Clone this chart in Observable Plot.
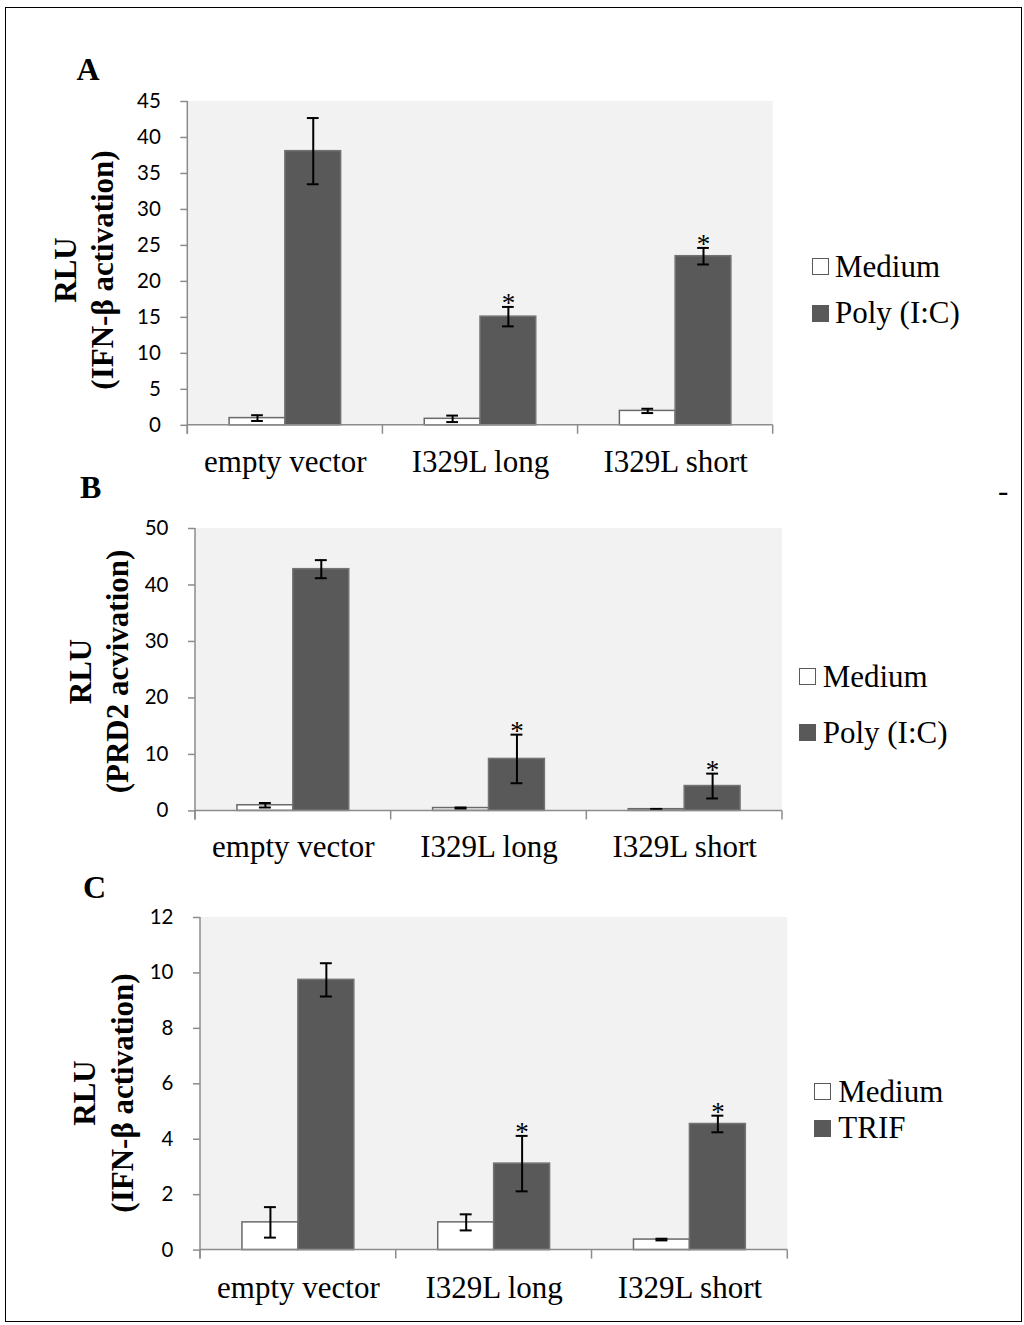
<!DOCTYPE html>
<html><head><meta charset="utf-8">
<script src="https://cdn.jsdelivr.net/npm/d3@7"></script>
<script src="https://cdn.jsdelivr.net/npm/@observablehq/plot@0.6"></script>
<style>
body{margin:0;background:#fff;}
#fig{position:relative;width:1024px;height:1325px;overflow:hidden;font-family:"Liberation Serif","Times New Roman",serif;color:#000;}
.abs{position:absolute;white-space:nowrap;}
svg{position:absolute;left:0;}
</style></head><body><div id="fig"></div>
<script>
// ---- data ----
const categories = ["empty vector", "I329L long", "I329L short"];
const seriesAB = ["Medium", "Poly (I:C)"];
const seriesC = ["Medium", "TRIF"];

const mediumA = [1.0, 0.9, 2.0];
const mediumAErr = [0.4, 0.45, 0.3];
const polyA = [38.1, 15.1, 23.5];
const polyAErr = [4.6, 1.35, 1.15];
const polyASig = [false, true, true];
const ticksA = [0, 5, 10, 15, 20, 25, 30, 35, 40, 45];

const mediumB = [1.0, 0.5, 0.3];
const mediumBErr = [0.4, 0.1, 0.05];
const polyB = [42.8, 9.2, 4.4];
const polyBErr = [1.6, 4.3, 2.2];
const polyBSig = [false, true, true];
const ticksB = [0, 10, 20, 30, 40, 50];

const mediumC = [1.0, 1.0, 0.38];
const mediumCErr = [0.55, 0.29, 0.03];
const trifC = [9.75, 3.12, 4.55];
const trifCErr = [0.6, 1.0, 0.3];
const trifCSig = [false, true, true];
const ticksC = [0, 2, 4, 6, 8, 10, 12];

const titlesA = ["RLU", "(IFN-\u03b2 activation)"];
const titlesB = ["RLU", "(PRD2 acvivation)"];
const titlesC = ["RLU", "(IFN-\u03b2 activation)"];

// ---- styles ----
const DARK = "#595959";
const SERIF = "Liberation Serif";
const fig = document.getElementById("fig");

function buildRows(med, medErr, trt, trtErr, trtSig, series) {
  return categories.flatMap((c, i) => [
    {category: c, series: series[0], value: med[i], err: medErr[i], sig: false},
    {category: c, series: series[1], value: trt[i], err: trtErr[i], sig: trtSig[i]}
  ]);
}

function placeText(txt, x, baseline, size, opts = {}) {
  const d = document.createElement("div");
  d.className = "abs";
  d.textContent = txt;
  d.style.fontSize = size + "px";
  d.style.lineHeight = size + "px";
  d.style.left = x + "px";
  d.style.top = (baseline - 0.8375 * size) + "px";
  if (opts.bold) d.style.fontWeight = "bold";
  fig.appendChild(d);
  return d;
}

function legend(series, sqX, textX, baselines) {
  series.forEach((s, i) => {
    const sq = document.createElement("div");
    sq.className = "abs";
    Object.assign(sq.style, {
      left: sqX + "px", top: (baselines[i] - 1.7 - 17) + "px",
      width: "17px", height: "17px", boxSizing: "border-box",
      border: "1.5px solid " + DARK, background: i === 0 ? "#fff" : DARK
    });
    fig.appendChild(sq);
    placeText(s, textX, baselines[i], 31);
  });
}

function yTitle(lines, cx, cy, lineH) {
  const d = document.createElement("div");
  d.className = "abs";
  Object.assign(d.style, {
    width: "420px", height: (2 * lineH) + "px", lineHeight: lineH + "px",
    left: (cx - 210) + "px", top: (cy - lineH) + "px",
    textAlign: "center", fontWeight: "bold", fontSize: "31px",
    transform: "rotate(-90deg)"
  });
  d.innerHTML = lines.map(l => `<div>${l}</div>`).join("");
  fig.appendChild(d);
}

function panel({rows, series, yMax, ticks, left, right, plotTop, plotBottom, labelPad}) {
  const W = 1024, mt = 10, mb = 75;
  const H = (plotBottom - plotTop) + mt + mb;
  const cap = {stroke: "#000", strokeWidth: 2, insetLeft: 22, insetRight: 22};
  const svg = Plot.plot({
    width: W, height: H,
    marginLeft: left, marginRight: W - right, marginTop: mt, marginBottom: mb,
    style: {background: "transparent", overflow: "visible"},
    fx: {domain: categories, padding: 0, paddingInner: 0, paddingOuter: 0, round: false, axis: null, label: null},
    x: {domain: series, paddingInner: 0, paddingOuter: 0.75, round: false, axis: null},
    y: {domain: [0, yMax], axis: null},
    marks: [
      Plot.barY(rows.filter(d => d.series === series[0]),
        {fx: "category", x: "series", y: "value", fill: "#fff", stroke: "#6a6a6a", strokeWidth: 1.5}),
      Plot.barY(rows.filter(d => d.series === series[1]),
        {fx: "category", x: "series", y: "value", fill: DARK, stroke: "#737373", strokeWidth: 1.5}),
      Plot.ruleX(rows, {fx: "category", x: "series", y1: d => d.value - d.err, y2: d => d.value + d.err, stroke: "#000", strokeWidth: 2}),
      Plot.tickY(rows, {fx: "category", x: "series", y: d => d.value + d.err, ...cap}),
      Plot.tickY(rows, {fx: "category", x: "series", y: d => d.value - d.err, ...cap}),
      Plot.text(rows.filter(d => d.sig), {fx: "category", x: "series", y: d => d.value + d.err,
        text: () => "*", fontFamily: SERIF, fontSize: 27, lineAnchor: "bottom", dy: 5, fill: "#000"}),
      Plot.axisY({ticks, tickSize: 7, tickPadding: 20, fontSize: 20.5, fontFamily: "Lato",
        stroke: "#8c8c8c", strokeWidth: 1.5, fill: "#000", label: null}),
      Plot.axisFx({anchor: "bottom", tickSize: 0, tickPadding: labelPad, fontSize: 31,
        fontFamily: SERIF, fill: "#000", label: null})
    ]
  });
  svg.style.top = (plotTop - mt) + "px";
  // chart background and category-boundary axis decorations from the library's scales
  const fxS = svg.scale("fx"), yS = svg.scale("y");
  const fx = d3.scaleBand(fxS.domain, fxS.range).paddingInner(0).paddingOuter(0);
  const y = d3.scaleLinear(yS.domain, yS.range);
  const x0 = fx.range()[0], x1 = fx.range()[1], y0 = y(0), yTop = y(yMax);
  const s = d3.select(svg);
  s.insert("rect", ":first-child")
    .attr("x", x0).attr("y", yTop).attr("width", x1 - x0).attr("height", y0 - yTop)
    .attr("fill", "#f2f2f2");
  const g = s.append("g").attr("stroke", "#8c8c8c").attr("stroke-width", 1.5);
  g.append("line").attr("x1", x0).attr("x2", x0).attr("y1", yTop).attr("y2", y0 + 9);
  g.append("line").attr("x1", x0).attr("x2", x1).attr("y1", y0).attr("y2", y0);
  [...categories.map(c => fx(c)), x1].forEach(b =>
    g.append("line").attr("x1", b).attr("x2", b).attr("y1", y0).attr("y2", y0 + 9));
  fig.appendChild(svg);
}

// border
const border = document.createElement("div");
border.className = "abs";
Object.assign(border.style, {left: "5px", top: "7px", width: "1017px", height: "1315px",
  border: "1.5px solid #000", boxSizing: "border-box"});
fig.appendChild(border);

// Panel A
panel({rows: buildRows(mediumA, mediumAErr, polyA, polyAErr, polyASig, seriesAB), series: seriesAB,
  yMax: 45, ticks: ticksA, left: 187.3, right: 772.7, plotTop: 100.7, plotBottom: 424.5, labelPad: 24.5});
placeText("A", 76.5, 80, 32, {bold: true});
yTitle(titlesA, 83.5, 270, 37);
legend(seriesAB, 811.7, 835, [276.7, 323.3]);

// Panel B
panel({rows: buildRows(mediumB, mediumBErr, polyB, polyBErr, polyBSig, seriesAB), series: seriesAB,
  yMax: 50, ticks: ticksB, left: 195, right: 782, plotTop: 528.3, plotBottom: 810.7, labelPad: 24});
placeText("B", 80, 498, 32, {bold: true});
placeText("-", 998, 501, 31);
yTitle(titlesB, 98.75, 671.5, 36.5);
legend(seriesAB, 799, 822.7, [686.7, 742.7]);

// Panel C
panel({rows: buildRows(mediumC, mediumCErr, trifC, trifCErr, trifCSig, seriesC), series: seriesC,
  yMax: 12, ticks: ticksC, left: 200, right: 787.3, plotTop: 916.7, plotBottom: 1249.3, labelPad: 25.5});
placeText("C", 83, 898, 32, {bold: true});
yTitle(titlesC, 104, 1092.5, 38);
legend(seriesC, 814.3, 838.3, [1101.7, 1138.3]);
</script>
</body></html>
